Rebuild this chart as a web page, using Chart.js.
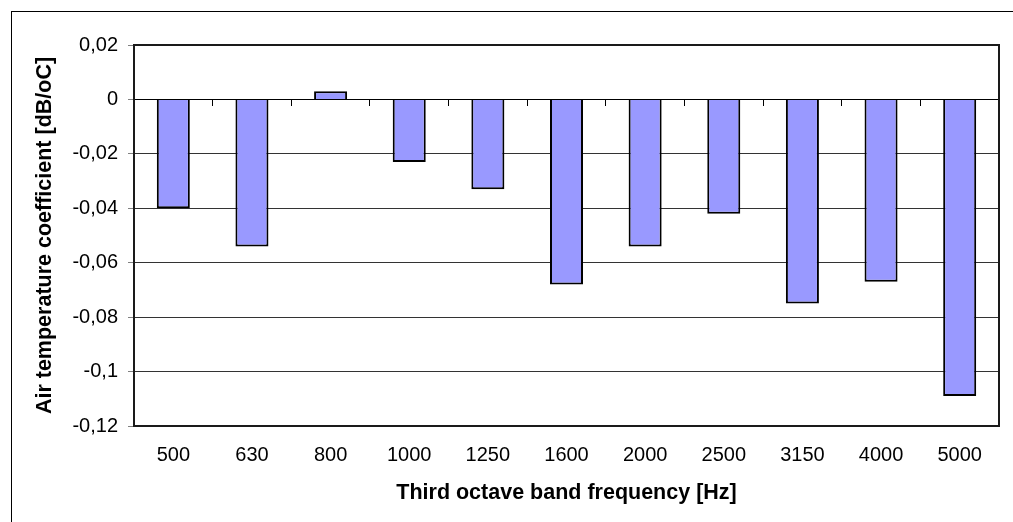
<!DOCTYPE html>
<html>
<head>
<meta charset="utf-8">
<script src="https://cdn.jsdelivr.net/npm/chart.js@4.4.1/dist/chart.umd.min.js"></script>
<style>
    html, body { margin: 0; padding: 0; background: #fff; }
    #wrap { width: 1013px; height: 522px; position: relative; }
</style>
</head>
<body>
<div id="wrap"><canvas id="chart" width="1013" height="522"></canvas></div>
<script>
const frequencies = ['500', '630', '800', '1000', '1250', '1600', '2000', '2500', '3150', '4000', '5000'];
const coefficients = [-0.040, -0.054, 0.003, -0.023, -0.033, -0.068, -0.054, -0.042, -0.075, -0.067, -0.109];
const yTicks = [0.02, 0, -0.02, -0.04, -0.06, -0.08, -0.1, -0.12];

const font = { family: '"Liberation Sans", Arial, sans-serif', size: 20 };
const boldFont = { ...font, size: 21.5, weight: 'bold' };

// outer chart frame + plot frame (Excel style)
const frames = {
    id: 'frames',
    afterDraw(chart) {
        const { ctx, chartArea: a } = chart;
        ctx.save();
        ctx.strokeStyle = '#000';
        ctx.lineWidth = 1;
        ctx.strokeRect(11.5, 11.5, 1100, 600);
        ctx.strokeStyle = '#1a1a1a';
        ctx.lineWidth = 2;
        ctx.strokeRect(a.left, a.top, a.right - a.left, a.bottom - a.top);
        ctx.restore();
    }
};

new Chart(document.getElementById('chart'), {
    type: 'bar',
    data: {
        labels: frequencies,
        datasets: [{
            data: coefficients,
            backgroundColor: '#9999ff',
            borderColor: '#000',
            borderWidth: 2,
            barPercentage: 0.42,
            categoryPercentage: 1
        }]
    },
    options: {
        responsive: false,
        animation: false,
        layout: { padding: { top: 45, right: 14, left: 0, bottom: 0 } },
        plugins: { legend: { display: false }, tooltip: { enabled: false } },
        scales: {
            x: {
                offset: true,
                grid: { display: false, drawTicks: false, offset: true },
                border: { display: false },
                ticks: { font, color: '#000', padding: 17, maxRotation: 0 },
                title: { display: true, text: 'Third octave band frequency [Hz]', font: boldFont, color: '#000', padding: { top: 0, bottom: 16 } },
                afterFit(scale) { scale.height = 96; }
            },
            x0: {
                type: 'category',
                position: { y: 0 },
                offset: true,
                grid: { offset: true, drawOnChartArea: false, tickLength: 7, color: '#000', lineWidth: 1 },
                border: { display: false },
                ticks: { display: false }
            },
            y: {
                min: -0.12,
                max: 0.02,
                afterBuildTicks(scale) { scale.ticks = yTicks.map(value => ({ value })); },
                grid: {
                    color: ctx => ctx.tick && ctx.tick.value === 0 ? '#000' : '#333',
                    tickColor: '#808080',
                    tickLength: 6,
                    lineWidth: 1
                },
                border: { display: true, color: '#000', width: 2 },
                ticks: {
                    font, color: '#000', padding: 10,
                    callback: value => String(Number(value.toFixed(2))).replace('.', ',')
                },
                title: { display: true, text: 'Air temperature coefficient [dB/oC]', font: boldFont, color: '#000', padding: { top: 32, bottom: 0 } },
                afterFit(scale) { scale.width = 134; }
            }
        }
    },
    plugins: [frames]
});
</script>
</body>
</html>
